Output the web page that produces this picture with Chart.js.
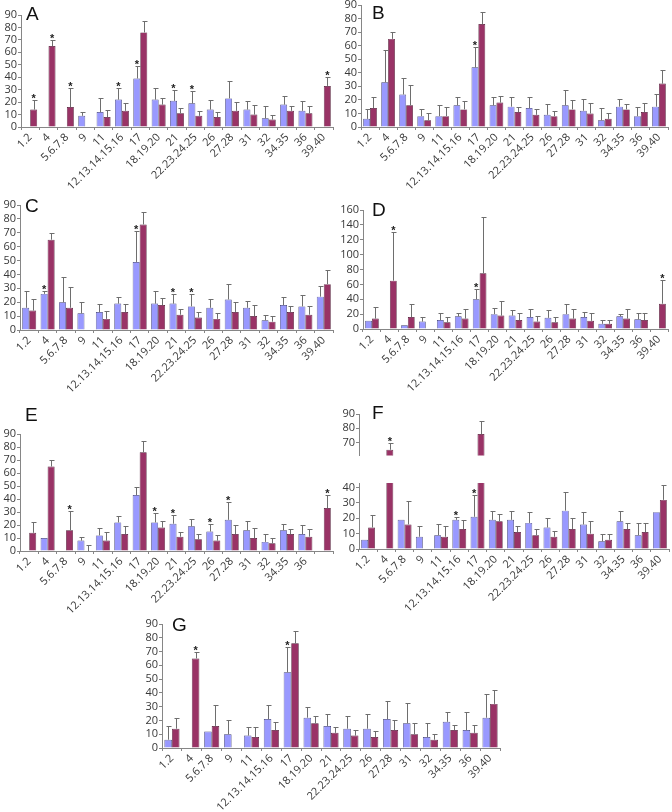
<!DOCTYPE html>
<html>
<head>
<meta charset="utf-8">
<script src="https://cdn.jsdelivr.net/npm/chart.js@4.4.0/dist/chart.umd.min.js"></script>
<style>
  body { margin: 0; background: #fff; width: 672px; height: 812px; overflow: hidden; position: relative; }
  canvas { position: absolute; }
  .lbl { position: absolute; font-family: 'Liberation Sans', Arial, sans-serif; font-size: 19px; line-height: 19px; color: #111; }
</style>
</head>
<body>
<canvas id="panel-a" width="336" height="190" style="left:0;top:5px"></canvas>
<canvas id="panel-b" width="336" height="200" style="left:336px;top:-5px"></canvas>
<canvas id="panel-c" width="336" height="205" style="left:0;top:195px"></canvas>
<canvas id="panel-d" width="336" height="205" style="left:336px;top:195px"></canvas>
<canvas id="panel-e" width="336" height="195" style="left:0;top:420px"></canvas>
<canvas id="panel-f-top" width="336" height="62" style="left:336px;top:400px"></canvas>
<canvas id="panel-f" width="336" height="145" style="left:336px;top:470px"></canvas>
<canvas id="panel-g" width="365" height="200" style="left:140px;top:612px"></canvas>

<div class="lbl" style="left:26px;top:4px">A</div>
<div class="lbl" style="left:372px;top:3px">B</div>
<div class="lbl" style="left:25px;top:196px">C</div>
<div class="lbl" style="left:372px;top:200px">D</div>
<div class="lbl" style="left:25px;top:405px">E</div>
<div class="lbl" style="left:372px;top:403px">F</div>
<div class="lbl" style="left:172px;top:615px">G</div>

<script>
const categories = ['1.2', '4', '5.6.7.8', '9', '11', '12.13.14.15.16', '17', '18.19.20', '21',
    '22.23.24.25', '26', '27.28', '31', '32', '34.35', '36', '39.40'];

// y tick labels
const ticks90 = [0, 10, 20, 30, 40, 50, 60, 70, 80, 90];
const ticks160 = [0, 20, 40, 60, 80, 100, 120, 140, 160];
const ticksFTop = [70, 80, 90];
const ticksFLow = [0, 10, 20, 30, 40];

// A
const aBlue = [null, null, null, 9, 12, 22, 39, 22, 21, 19, 14, 23, 14, 7, 18, 13, null];
const aBlueErr = [null, null, null, 12, 23, 31, 49, 31, 30, 29, 22, 37, 21, 17, 25, 21, null];
const aRed = [14, 65, 16, null, 8, 13, 76, 18, 11, 9, 8, 13, 10, 6, 13, 11, 33];
const aRedErr = [22, 70, 31, null, 14, 19, 85, 23, 15, 13, 12, 20, 18, 10, 17, 17, 40];
const aBlueStars = [5, 6, 8, 9];
const aRedStars = [0, 1, 2, 16];

// B
const bBlue = [6, 33, 24, 8, 8, 16, 44, 16, 15, 14, 9, 16, 12, 5, 15, 8, 15];
const bBlueErr = [13, 57, 36, 13, 16, 22, 59, 22, 22, 22, 17, 27, 21, 14, 21, 15, 24];
const bRed = [14, 65, 16, 5, 8, 13, 76, 18, 11, 9, 8, 13, 10, 6, 13, 11, 32];
const bRedErr = [22, 70, 31, 10, 15, 19, 85, 23, 15, 13, 12, 20, 18, 10, 17, 18, 42];
const bBlueStars = [6];
const bRedStars = [];

// C
const cBlue = [16, 26, 20, 12, 13, 19, 49, 19, 19, 17, 16, 22, 16, 7, 18, 17, 24];
const cBlueErr = [28, 28, 38, 20, 19, 24, 71, 28, 26, 26, 22, 33, 21, 11, 24, 25, 32];
const cRed = [14, 65, 16, null, 8, 13, 76, 18, 11, 9, 8, 13, 10, 6, 13, 11, 33];
const cRedErr = [22, 70, 31, null, 14, 19, 85, 23, 15, 13, 12, 20, 18, 10, 17, 17, 43];
const cBlueStars = [1, 6, 8, 9];
const cRedStars = [];

// D
const dBlue = [11, null, 5, 10, 12, 17, 40, 20, 18, 16, 15, 20, 16, 7, 17, 13, null];
const dBlueErr = [null, null, null, 16, 21, 22, 54, 28, 25, 27, 25, 34, 23, 12, 20, 22, null];
const dRed = [14, 65, 16, null, 9, 14, 75, 18, 12, 10, 9, 14, 11, 7, 14, 12, 34];
const dRedErr = [29, 130, 33, null, 16, 27, 151, 37, 22, 18, 16, 27, 21, 12, 27, 22, 66];
const dBlueStars = [6];
const dRedStars = [1, 16];

// E (last category label is missing in the original)
const eLabels = ['1.2', '4', '5.6.7.8', '9', '11', '12.13.14.15.16', '17', '18.19.20', '21',
    '22.23.24.25', '26', '27.28', '31', '32', '34.35', '36', ''];
const eBlue = [null, 10, null, 8, 12, 22, 43, 22, 21, 19, 15, 24, 16, 7, 16, 13, null];
const eBlueErr = [null, null, null, 11, 18, 27, 49, 29, 28, 25, 21, 38, 23, 13, 21, 20, null];
const eRed = [14, 65, 16, 0, 8, 13, 76, 18, 11, 9, 8, 13, 10, 6, 13, 11, 33];
const eRedErr = [22, 70, 31, 5, 15, 19, 85, 23, 15, 13, 12, 20, 18, 10, 17, 17, 43];
const eBlueStars = [7, 8, 10, 11];
const eRedStars = [2, 16];

// F (broken axis)
const fBlue = [6, null, 19, 8, 9, 19, 21, 19, 19, 17, 14, 25, 16, 5, 18, 9, 24];
const fBlueErr = [null, null, null, 15, 16, 21, 35, 25, 25, 24, 20, 37, 24, 10, 25, 17, null];
const fRed = [14, 65, 16, null, 8, 13, 76, 18, 11, 9, 8, 13, 10, 6, 13, 11, 32];
const fRedErr = [22, 70, 31, null, 15, 19, 85, 23, 15, 13, 12, 20, 18, 10, 17, 17, 42];
const fBlueStars = [5, 6];
const fRedStars = [1];

// G
const gBlue = [6, null, 12, 10, 9, 21, 55, 22, 16, 14, 14, 21, 18, 8, 19, 13, 22];
const gBlueErr = [16, null, null, 20, 15, 31, 73, 30, 25, 23, 25, 34, 33, 18, 26, 26, 39];
const gRed = [14, 65, 16, null, 8, 13, 76, 18, 11, 9, 8, 13, 10, 6, 13, 11, 32];
const gRedErr = [22, 70, 31, null, 15, 19, 85, 23, 15, 13, 12, 20, 18, 10, 17, 17, 42];
const gBlueStars = [6];
const gRedStars = [1];

const BLUE = '#9999FF';
const RED = '#993366';
const AXIS = '#868686';
const TEXT = '#383838';

// error bars (upward only) and significance asterisks
const errorBars = {
    id: 'errorBars',
    afterDatasetsDraw(chart) {
        const { ctx, chartArea: a } = chart;
        const y = chart.scales.y;
        ctx.save();
        ctx.beginPath();
        ctx.rect(a.left, a.top, a.right - a.left, a.bottom - a.top);
        ctx.clip();
        chart.data.datasets.forEach((ds, di) => {
            const meta = chart.getDatasetMeta(di);
            meta.data.forEach((bar, i) => {
                const top = ds.errTop[i];
                if (top == null || ds.data[i] == null) return;
                const x = Math.round(bar.x) + 0.5;
                const yt = Math.round(y.getPixelForValue(top)) + 0.5;
                ctx.strokeStyle = '#6e6e6e';
                ctx.lineWidth = 1;
                ctx.beginPath();
                ctx.moveTo(x, bar.y);
                ctx.lineTo(x, yt);
                ctx.moveTo(x - 2, yt);
                ctx.lineTo(x + 3, yt);
                ctx.stroke();
            });
            ds.stars.forEach(i => {
                const bar = meta.data[i];
                const v = ds.errTop[i] != null ? ds.errTop[i] : ds.data[i];
                const yt = y.getPixelForValue(v);
                ctx.fillStyle = '#222';
                ctx.font = 'bold 11px "Liberation Sans", Arial, sans-serif';
                ctx.textAlign = 'center';
                ctx.textBaseline = 'alphabetic';
                ctx.fillText('*', bar.x, yt + 2);
            });
        });
        ctx.restore();
    }
};

function makePanel(id, p) {
    const canvas = document.getElementById(id);
    if (!(canvas instanceof HTMLCanvasElement)) return;
    new Chart(canvas, {
        type: 'bar',
        data: {
            labels: p.labels,
            datasets: [{
                data: p.blue,
                errTop: p.blueErr,
                stars: p.blueStars,
                backgroundColor: BLUE,
                borderColor: '#3c3c70',
                borderWidth: 0.7,
                clip: 0
            }, {
                data: p.red,
                errTop: p.redErr,
                stars: p.redStars,
                backgroundColor: RED,
                borderColor: '#4a1630',
                borderWidth: 0.7,
                clip: 0
            }]
        },
        options: {
            responsive: false,
            animation: false,
            devicePixelRatio: 1,
            categoryPercentage: 0.76,
            barPercentage: 1,
            layout: { padding: { top: p.padTop, right: p.padRight, bottom: p.padBottom || 0, left: 0 } },
            plugins: {
                legend: { display: false },
                tooltip: { enabled: false }
            },
            scales: {
                x: {
                    display: p.showX !== false,
                    border: { color: AXIS, width: 1 },
                    grid: { drawOnChartArea: false, tickLength: 3, color: AXIS },
                    ticks: {
                        autoSkip: false,
                        minRotation: 45,
                        maxRotation: 45,
                        padding: 1,
                        color: TEXT,
                        font: { family: "'Open Sans', sans-serif", size: 11 }
                    },
                    afterFit: s => { s.height = p.xHeight; }
                },
                y: {
                    min: p.min,
                    max: p.max,
                    border: { color: AXIS, width: 1 },
                    grid: { drawOnChartArea: false, tickLength: 3, color: AXIS },
                    ticks: {
                        autoSkip: false,
                        padding: 1,
                        color: TEXT,
                        font: { family: "'Open Sans', sans-serif", size: 11, lineHeight: 1 }
                    },
                    afterBuildTicks: s => { s.ticks = p.yTicks.map(v => ({ value: v })); },
                    afterFit: s => { s.width = p.yWidth; }
                }
            }
        },
        plugins: [errorBars]
    });
}

makePanel('panel-a', { labels: categories, blue: aBlue, blueErr: aBlueErr, red: aRed, redErr: aRedErr,
    blueStars: aBlueStars, redStars: aRedStars, min: 0, max: 90, yTicks: ticks90,
    padTop: 10, padRight: 3, yWidth: 21, xHeight: 68 });

makePanel('panel-b', { labels: categories, blue: bBlue, blueErr: bBlueErr, red: bRed, redErr: bRedErr,
    blueStars: bBlueStars, redStars: bRedStars, min: 0, max: 90, yTicks: ticks90,
    padTop: 10, padRight: 4, yWidth: 25, xHeight: 68 });

makePanel('panel-c', { labels: categories, blue: cBlue, blueErr: cBlueErr, red: cRed, redErr: cRedErr,
    blueStars: cBlueStars, redStars: cRedStars, min: 0, max: 90, yTicks: ticks90,
    padTop: 10, padRight: 3, yWidth: 20, xHeight: 70 });

makePanel('panel-d', { labels: categories, blue: dBlue, blueErr: dBlueErr, red: dRed, redErr: dRedErr,
    blueStars: dBlueStars, redStars: dRedStars, min: 0, max: 160, yTicks: ticks160,
    padTop: 15, padRight: 4, yWidth: 27, xHeight: 71 });

makePanel('panel-e', { labels: eLabels, blue: eBlue, blueErr: eBlueErr, red: eRed, redErr: eRedErr,
    blueStars: eBlueStars, redStars: eRedStars, min: 0, max: 90, yTicks: ticks90,
    padTop: 14, padRight: 3, yWidth: 20, xHeight: 64 });

// F upper part of the broken axis
makePanel('panel-f-top', { labels: categories, blue: fBlue, blueErr: fBlueErr, red: fRed, redErr: fRedErr,
    blueStars: fBlueStars, redStars: fRedStars, min: 61, max: 90, yTicks: ticksFTop,
    padTop: 14, padRight: 3, padBottom: 5, yWidth: 23, xHeight: 0, showX: false });

// F lower part
makePanel('panel-f', { labels: categories, blue: fBlue, blueErr: fBlueErr, red: fRed, redErr: fRedErr,
    blueStars: fBlueStars, redStars: fRedStars, min: 0, max: 43, yTicks: ticksFLow,
    padTop: 13, padRight: 3, yWidth: 23, xHeight: 66 });

makePanel('panel-g', { labels: categories, blue: gBlue, blueErr: gBlueErr, red: gRed, redErr: gRedErr,
    blueStars: gBlueStars, redStars: gRedStars, min: 0, max: 90, yTicks: ticks90,
    padTop: 12, padRight: 5, yWidth: 22, xHeight: 64 });
</script>
</body>
</html>
